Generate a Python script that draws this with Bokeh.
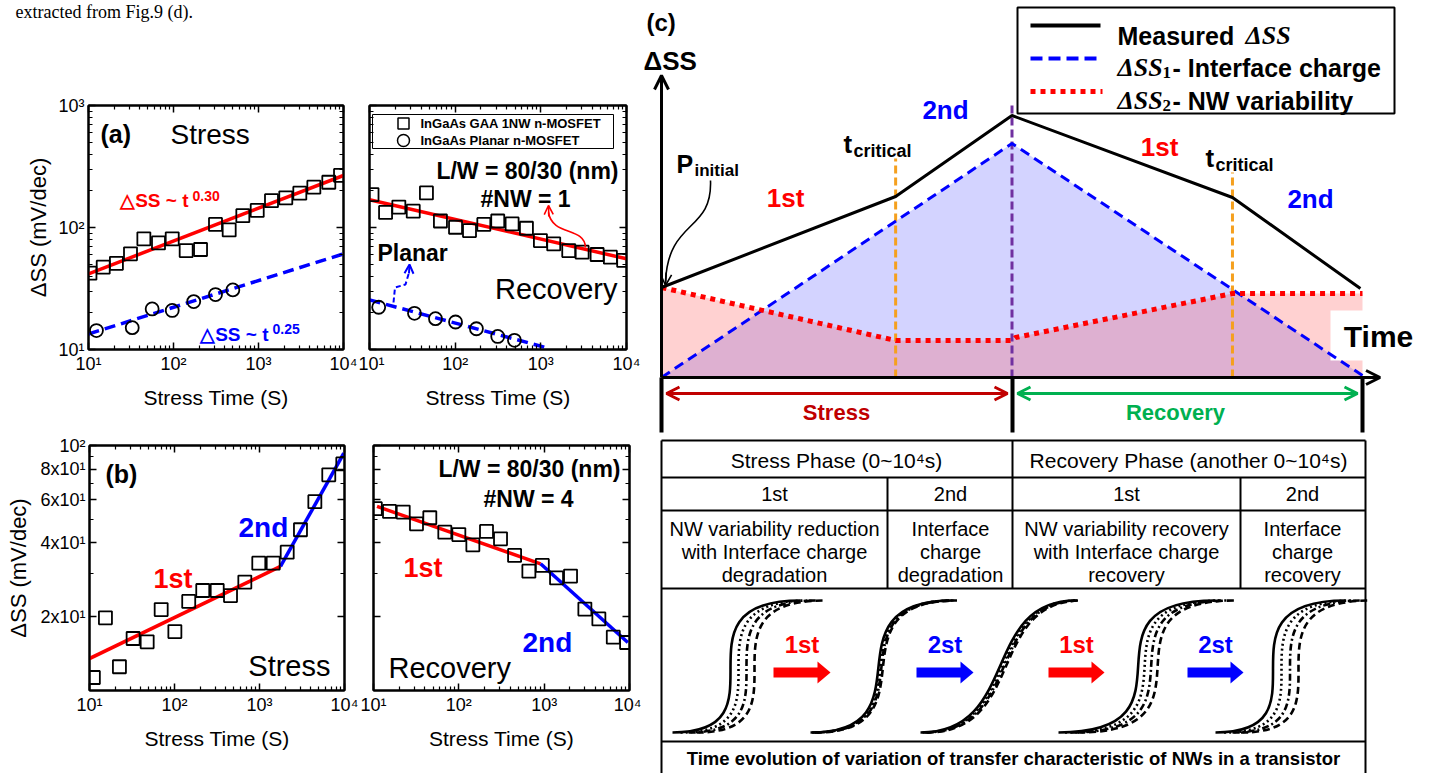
from bokeh.plotting import figure
from bokeh.layouts import row, column
from bokeh.models import (Range1d, LinearScale, LogAxis, FixedTicker,
                          CustomJSTickFormatter, Label, Arrow, OpenHead)
from bokeh.embed import file_html
from bokeh.resources import INLINE

SANS = "Liberation Sans"
SERIF = "Liberation Serif"

# ------------------------------------------------------------------ data
time_ticks = [10, 100, 1000, 10000]
time_tick_labels = ["10¹", "10²", "10³", "10⁴"]
a_ss_ticks = [10, 100, 1000]
a_ss_tick_labels = ["10¹", "10²", "10³"]
b_ss_ticks = [20, 40, 60, 80, 100]
b_ss_tick_labels = ["2x10¹", "4x10¹", "6x10¹", "8x10¹", "10²"]
b_ss_minor = [10, 30, 50, 70, 90]

# (a) stress
a_st_gaa_t = [10.4, 14.9, 21.3, 31.2, 44.8, 66.6, 96.6, 141, 208, 312, 452, 654, 966, 1422, 2094, 3062, 4478, 6715, 9226]
a_st_gaa_ss = [42.2, 47.3, 50.9, 60.8, 80.7, 74.8, 80.7, 64.7, 66.0, 106, 95.6, 125, 138, 166, 175, 191, 214, 235, 267]
a_st_pl_t = [12.4, 32.7, 56.1, 96.6, 173, 312, 499]
a_st_pl_ss = [14.3, 15.1, 21.5, 20.9, 24.7, 28.2, 30.8]
a_st_fit_gaa_t = [10, 10000]
a_st_fit_gaa_ss = [41.7, 267]
a_st_fit_pl_t = [10, 10000]
a_st_fit_pl_ss = [13.4, 60.8]

# (a) recovery
a_rc_gaa_t = [10.7, 15.4, 22.0, 32.4, 46.2, 67.3, 101, 147, 216, 314, 462, 679, 989, 1414, 2118, 3034, 4539, 6486, 9270]
a_rc_gaa_ss = [186, 133, 147, 136, 192, 113, 100.5, 94.4, 106, 113, 107, 98.6, 78.2, 73.4, 64.7, 62.8, 60.1, 57.1, 53.7]
a_rc_pl_t = [12.8, 33.5, 58.9, 101, 177, 314, 492]
a_rc_pl_ss = [22.2, 19.8, 17.9, 16.8, 14.8, 12.8, 11.9]
a_rc_fit_gaa_t = [10, 10000]
a_rc_fit_gaa_ss = [169, 55.4]
a_rc_fit_pl_t = [10, 1132]
a_rc_fit_pl_ss = [25.5, 10.4]

# (b) stress
b_st_t = [11.1, 15.4, 22.5, 32.6, 47.7, 69.7, 101, 147, 215, 318, 456, 672, 981, 1449, 2118, 3034, 4478, 6531, 9550]
b_st_ss = [11.3, 19.8, 12.5, 16.3, 15.8, 21.4, 17.4, 23.1, 25.6, 25.6, 24.4, 27.7, 33.1, 33.1, 36.7, 45.3, 59.0, 75.9, 84.1]
b_st_fit1_t = [10, 1766]
b_st_fit1_ss = [13.5, 32.1]
b_st_fit2_t = [1766, 9818]
b_st_fit2_ss = [32.1, 93.0]

# (b) recovery
b_rc_t = [10.5, 15.4, 22.3, 31.9, 45.7, 68.5, 100, 146, 211, 308, 450, 662, 951, 1397, 2037, 2999, 4375, 6457, 9247]
b_rc_ss = [55.2, 53.8, 53.5, 47.9, 50.7, 44.3, 43.3, 39.3, 44.6, 41.6, 35.6, 30.7, 32.4, 28.8, 29.3, 21.5, 19.6, 16.5, 15.7]
b_rc_fit1_t = [11, 908]
b_rc_fit1_ss = [56.4, 32.9]
b_rc_fit2_t = [908, 9570]
b_rc_fit2_ss = [32.9, 15.7]

# (c) schematic (time in stress/recovery units, dSS in arbitrary units)
sch_meas_t = [0.0, 0.668, 1.0, 1.629, 1.994]
sch_meas = [0.90, 1.81, 2.62, 1.80, 0.89]
sch_ss1_t = [0.0, 1.0, 2.0]
sch_ss1 = [0.0, 2.34, 0.02]
sch_ss2_t = [0.0, 0.668, 1.0, 1.01, 1.629, 2.0]
sch_ss2 = [0.90, 0.37, 0.37, 0.40, 0.84, 0.84]
t_critical = [0.668, 1.629]
t_critical_top = [2.19, 2.05]
t_switch = 1.0
t_switch_top = 2.74

table_header = ["Stress Phase (0~10⁴s)", "Recovery Phase (another 0~10⁴s)"]
table_steps = ["1st", "2nd", "1st", "2nd"]
table_desc = [["NW variability reduction", "with Interface charge", "degradation"],
              ["Interface", "charge", "degradation"],
              ["NW variability recovery", "with Interface charge", "recovery"],
              ["Interface", "charge", "recovery"]]
caption = "Time evolution of variation of transfer characteristic of NWs in a transistor"

# S-curve illustration groups (page px)
sc_x0 = [672, 810, 920, 1058, 1215]
sc_x1 = [800, 952, 1075, 1215, 1345]
sc_xm = [728, 877, 1000, 1138, 1270]
sc_steep = [1.0, 0.8, 0.25, 0.9, 1.0]
sc_spread = [8, 1.5, 2, 6.5, 8.5]
sc_styles = ["solid", "2 3", "7 3 2 3", "7 4"]


def x_minor_ticks():
    return [m * 10 ** k for k in range(1, 4) for m in range(2, 10)]


def fmt(tick_values, labels):
    return CustomJSTickFormatter(args=dict(tv=tick_values, tl=labels), code="""
        for (let i = 0; i < tv.length; i++) {
            if (Math.abs(tv[i] - tick) < 1e-6 * tv[i]) { return tl[i]; }
        }
        return "";
    """)


def blank():
    return CustomJSTickFormatter(code="return '';")


def style_axis(ax, show):
    ax.major_tick_in = 7
    ax.major_tick_out = 0
    ax.minor_tick_in = 4
    ax.minor_tick_out = 0
    ax.axis_line_width = 2
    ax.major_tick_line_width = 1.5
    ax.minor_tick_line_width = 1.2
    ax.major_label_text_font = SANS
    ax.major_label_text_color = "black"
    ax.axis_label_text_font = SANS
    ax.axis_label_text_font_style = "normal"
    ax.axis_label_text_color = "black"
    if show:
        ax.major_label_text_font_size = "18px"
        ax.major_label_standoff = 4
    else:
        ax.major_label_text_font_size = "0px"
        ax.major_label_standoff = 0


def lab(p, x, y, text, size, color="black", style="bold", align="left",
        baseline="middle", font=SANS, xr="default", yr="default"):
    p.add_layout(Label(x=x, y=y, text=text, text_font=font,
                       text_font_size=f"{size}px", text_font_style=style,
                       text_color=color, text_align=align, text_baseline=baseline,
                       x_range_name=xr, y_range_name=yr))


def log_panel(fig_box, frame_box, y_lim, y_ticks, y_labels, y_minor, show_y, ylab_standoff):
    left, top, right, bottom = fig_box
    fl, ft, fr, fb = frame_box
    p = figure(width=right - left, height=bottom - top, title=None,
               x_axis_type="log", y_axis_type="log",
               x_range=Range1d(10, 1e4), y_range=Range1d(*y_lim),
               min_border_left=fl - left, min_border_right=right - fr,
               min_border_top=ft - top, min_border_bottom=bottom - fb,
               output_backend="svg", toolbar_location=None)
    p.grid.visible = False
    p.outline_line_color = "black"
    p.outline_line_width = 2
    p.extra_x_ranges = {"px": Range1d(fl, fr)}
    p.extra_y_ranges = {"py": Range1d(fb, ft)}
    p.extra_x_scales = {"px": LinearScale()}
    p.extra_y_scales = {"py": LinearScale()}

    xb = p.xaxis[0]
    yl = p.yaxis[0]
    xb.ticker = FixedTicker(ticks=time_ticks, minor_ticks=x_minor_ticks())
    xb.formatter = fmt(time_ticks, time_tick_labels)
    yl.ticker = FixedTicker(ticks=y_ticks, minor_ticks=y_minor)
    yl.formatter = fmt(y_ticks, y_labels) if show_y else blank()
    xa = LogAxis(ticker=FixedTicker(ticks=time_ticks, minor_ticks=x_minor_ticks()), formatter=blank())
    yr = LogAxis(ticker=FixedTicker(ticks=y_ticks, minor_ticks=y_minor), formatter=blank())
    p.add_layout(xa, "above")
    p.add_layout(yr, "right")
    style_axis(xb, True)
    style_axis(yl, show_y)
    style_axis(xa, False)
    style_axis(yr, False)
    xb.axis_label = "Stress Time (S)"
    xb.axis_label_text_font_size = "21px"
    xb.axis_label_standoff = 9
    if show_y:
        yl.axis_label = "ΔSS (mV/dec)"
        yl.axis_label_text_font_size = "22px"
        yl.axis_label_standoff = ylab_standoff
    return p


def squares(p, t, ss, size=13):
    p.scatter(t, ss, marker="square", size=size, fill_color=None,
              line_color="black", line_width=1.8)


def circles(p, t, ss, size=13):
    p.scatter(t, ss, marker="circle", size=size, fill_color=None,
              line_color="black", line_width=1.8)


a_ticks_minor = [m * 10 ** k for k in range(1, 3) for m in range(2, 10)]
BOTTOM = 773

# ------------------------------------------------------------- panel (a) stress
a_s = log_panel((0, 90, 358, 415), (88, 105, 343, 349), (10, 1000),
                a_ss_ticks, a_ss_tick_labels, a_ticks_minor, True, 4)
a_s.line(a_st_fit_gaa_t, a_st_fit_gaa_ss, line_color="#ff0000", line_width=3.5)
a_s.line(a_st_fit_pl_t, a_st_fit_pl_ss, line_color="#0000ff", line_width=3.5, line_dash="11 6")
squares(a_s, a_st_gaa_t, a_st_gaa_ss)
circles(a_s, a_st_pl_t, a_st_pl_ss)
kw = dict(xr="px", yr="py")
lab(a_s, 100, 133, "(a)", 25, **kw)
lab(a_s, 170, 134, "Stress", 28, style="normal", **kw)
lab(a_s, 188, 200, "△SS ~ t", 19, color="#ff0000", align="right", baseline="alphabetic", **kw)
lab(a_s, 192, 195, "0.30", 14, color="#ff0000", baseline="alphabetic", **kw)
lab(a_s, 268, 334, "△SS ~ t", 19, color="#0000ff", align="right", baseline="alphabetic", **kw)
lab(a_s, 272, 328, "0.25", 14, color="#0000ff", baseline="alphabetic", **kw)

# ----------------------------------------------------------- panel (a) recovery
a_r = log_panel((358, 90, 641, 415), (369, 105, 626, 349), (10, 1000),
                a_ss_ticks, a_ss_tick_labels, a_ticks_minor, False, 5)
a_r.line(a_rc_fit_gaa_t, a_rc_fit_gaa_ss, line_color="#ff0000", line_width=3.5)
a_r.line(a_rc_fit_pl_t, a_rc_fit_pl_ss, line_color="#0000ff", line_width=3.5, line_dash="11 6")
squares(a_r, a_rc_gaa_t, a_rc_gaa_ss)
circles(a_r, a_rc_pl_t, a_rc_pl_ss)
a_r.quad(left=[372], right=[613], top=[114], bottom=[148], fill_color="white",
         line_color="black", line_width=1, x_range_name="px", y_range_name="py")
a_r.scatter([403], [123], marker="square", size=11, fill_color=None, line_color="black",
            line_width=1.5, x_range_name="px", y_range_name="py")
a_r.scatter([403], [140], marker="circle", size=12, fill_color=None, line_color="black",
            line_width=1.5, x_range_name="px", y_range_name="py")
lab(a_r, 420, 123, "InGaAs GAA 1NW n-MOSFET", 13, **kw)
lab(a_r, 420, 140, "InGaAs Planar n-MOSFET", 13, **kw)
lab(a_r, 618, 170, "L/W = 80/30 (nm)", 23, align="right", **kw)
lab(a_r, 480, 198, "#NW = 1", 23, **kw)
lab(a_r, 377, 252, "Planar", 23, **kw)
lab(a_r, 617, 288, "Recovery", 29, style="normal", align="right", **kw)
a_r.bezier(x0=[585], y0=[247], x1=[548], y1=[212], cx0=[584], cy0=[226], cx1=[552], cy1=[236],
           line_color="#ff0000", line_width=1.6, x_range_name="px", y_range_name="py")
a_r.add_layout(Arrow(x_start=548.3, y_start=216, x_end=548, y_end=205,
                     end=OpenHead(size=9, line_color="#ff0000", line_width=1.6),
                     line_color="#ff0000", line_width=1.6, x_range_name="px", y_range_name="py"))
a_r.line([393, 394.5, 405, 408.5], [302, 287, 284, 272], line_color="#0000ff",
         line_width=2, line_dash="5 3", x_range_name="px", y_range_name="py")
a_r.add_layout(Arrow(x_start=408.5, y_start=273, x_end=409, y_end=264,
                     end=OpenHead(size=9, line_color="#0000ff", line_width=2),
                     line_color="#0000ff", line_width=2, x_range_name="px", y_range_name="py"))

# ------------------------------------------------------------- panel (b) stress
b_s = log_panel((0, 415, 359, BOTTOM), (89, 445, 344, 690), (10, 100),
                b_ss_ticks, b_ss_tick_labels, b_ss_minor, True, 6)
b_s.line(b_st_fit1_t, b_st_fit1_ss, line_color="#ff0000", line_width=3.5)
b_s.line(b_st_fit2_t, b_st_fit2_ss, line_color="#0000ff", line_width=3.5)
squares(b_s, b_st_t, b_st_ss)
lab(b_s, 105, 473, "(b)", 25, **kw)
lab(b_s, 153, 578, "1st", 27, color="#ff0000", **kw)
lab(b_s, 238, 527, "2nd", 28, color="#0000ff", **kw)
lab(b_s, 330, 665, "Stress", 29, style="normal", align="right", **kw)

# ----------------------------------------------------------- panel (b) recovery
b_r = log_panel((359, 415, 641, BOTTOM), (373, 445, 629, 690), (10, 100),
                b_ss_ticks, b_ss_tick_labels, b_ss_minor, False, 7)
b_r.line(b_rc_fit1_t, b_rc_fit1_ss, line_color="#ff0000", line_width=3.5)
b_r.line(b_rc_fit2_t, b_rc_fit2_ss, line_color="#0000ff", line_width=3.5)
squares(b_r, b_rc_t, b_rc_ss)
lab(b_r, 620, 468, "L/W = 80/30 (nm)", 23, align="right", **kw)
lab(b_r, 483, 498, "#NW = 4", 23, **kw)
lab(b_r, 403, 567, "1st", 27, color="#ff0000", **kw)
lab(b_r, 522, 642, "2nd", 28, color="#0000ff", **kw)
lab(b_r, 388, 667, "Recovery", 29, style="normal", **kw)

# ------------------------------------------------------------------ top text
top = figure(width=641, height=90, title=None, x_range=Range1d(0, 641), y_range=Range1d(90, 0),
             x_axis_location=None, y_axis_location=None, min_border=0,
             output_backend="svg", toolbar_location=None)
top.grid.visible = False
top.outline_line_color = None
lab(top, 15, 1, "extracted from Fig.9 (d).", 18, style="normal", baseline="top", font=SERIF)

# ------------------------------------------------------------------ panel (c)
CX0, CX1, CY0, CY1 = 641, 1432, 0, BOTTOM
c = figure(width=CX1 - CX0, height=CY1 - CY0, title=None,
           x_range=Range1d(CX0, CX1), y_range=Range1d(CY1, CY0),
           x_axis_location=None, y_axis_location=None, min_border=0,
           output_backend="svg", toolbar_location=None)
c.grid.visible = False
c.outline_line_color = None
T_X0, T_PX = 661, 350.5
V_Y0, V_PX = 377, 100
c.extra_x_ranges = {"t": Range1d((CX0 - T_X0) / T_PX, (CX1 - T_X0) / T_PX)}
c.extra_y_ranges = {"v": Range1d((V_Y0 - CY1) / V_PX, (V_Y0 - CY0) / V_PX)}
c.extra_x_scales = {"t": LinearScale()}
c.extra_y_scales = {"v": LinearScale()}
sk = dict(x_range_name="t", y_range_name="v")

c.varea(x=sch_ss1_t, y1=[0] * len(sch_ss1_t), y2=sch_ss1, fill_color="#6060ff", fill_alpha=0.28, **sk)
c.varea(x=sch_ss2_t, y1=[0] * len(sch_ss2_t), y2=sch_ss2, fill_color="#ff4848", fill_alpha=0.25, **sk)
c.quad(left=[1330], right=[1432], top=[310], bottom=[360], fill_color="white", line_color=None)
c.segment(x0=t_critical, y0=[0, 0], x1=t_critical, y1=t_critical_top, line_color="#f5a01e",
          line_width=3, line_dash="8 4", **sk)
c.segment(x0=[t_switch], y0=[0], x1=[t_switch], y1=[t_switch_top], line_color="#7030a0",
          line_width=3, line_dash="8 4", **sk)
c.line(sch_ss1_t, sch_ss1, line_color="#0000ff", line_width=3, line_dash="10 6", **sk)
c.line(sch_ss2_t, sch_ss2, line_color="#ff0000", line_width=5, line_dash="5 5", **sk)
c.line(sch_meas_t, sch_meas, line_color="black", line_width=3, **sk)
c.add_layout(Arrow(x_start=0, y_start=0, x_end=0, y_end=3.02, line_width=3,
                   end=OpenHead(size=14, line_width=3), **sk))
c.add_layout(Arrow(x_start=0, y_start=0, x_end=2.05, y_end=0, line_width=3,
                   end=OpenHead(size=14, line_width=3), **sk))

c.segment(x0=[661, 1012, 1362], y0=[377] * 3, x1=[661, 1012, 1362], y1=[432] * 3,
          line_color="black", line_width=4)
c.add_layout(Arrow(x_start=666, y_start=393, x_end=1007, y_end=393, line_color="#c00000", line_width=3,
                   start=OpenHead(size=13, line_color="#c00000", line_width=3),
                   end=OpenHead(size=13, line_color="#c00000", line_width=3)))
c.add_layout(Arrow(x_start=1017, y_start=393, x_end=1357, y_end=393, line_color="#00b050", line_width=3,
                   start=OpenHead(size=13, line_color="#00b050", line_width=3),
                   end=OpenHead(size=13, line_color="#00b050", line_width=3)))
lab(c, 836, 412, "Stress", 22, color="#c00000", align="center")
lab(c, 1175, 412, "Recovery", 22, color="#00b050", align="center")

# P_initial pointer
c.bezier(x0=[710], y0=[180], x1=[665], y1=[281], cx0=[712], cy0=[232], cx1=[668], cy1=[218],
         line_color="black", line_width=1.6)
c.add_layout(Arrow(x_start=665.7, y_start=272, x_end=665, y_end=285, line_width=1.6,
                   end=OpenHead(size=11, line_width=1.6)))

lab(c, 646, 22, "(c)", 24)
lab(c, 643, 60, "ΔSS", 26)
lab(c, 676, 163, "P", 25, baseline="alphabetic")
lab(c, 694, 170, "initial", 17, baseline="alphabetic")
lab(c, 785, 197, "1st", 26, color="#ff0000", align="center")
lab(c, 945, 109, "2nd", 26, color="#0000ff", align="center")
lab(c, 843, 143, "t", 26, baseline="alphabetic")
lab(c, 853, 150, "critical", 18, baseline="alphabetic")
lab(c, 1159, 146, "1st", 26, color="#ff0000", align="center")
lab(c, 1205, 157, "t", 26, baseline="alphabetic")
lab(c, 1215, 164, "critical", 18, baseline="alphabetic")
lab(c, 1310, 198, "2nd", 26, color="#0000ff", align="center")
lab(c, 1378, 336, "Time", 30, align="center")

# legend box
c.quad(left=[1017], right=[1394], top=[7], bottom=[113], fill_color="white",
       line_color="black", line_width=2)
c.segment(x0=[1030], y0=[25], x1=[1100], y1=[25], line_color="black", line_width=4)
c.segment(x0=[1030], y0=[58], x1=[1100], y1=[58], line_color="#0000ff", line_width=4, line_dash="12 6")
c.segment(x0=[1030], y0=[91], x1=[1102], y1=[91], line_color="#ff0000", line_width=5, line_dash="5 5")
lab(c, 1117, 35, "Measured", 25, baseline="alphabetic")
lab(c, 1245, 35, "ΔSS", 26, style="bold italic", font=SERIF, baseline="alphabetic")
lab(c, 1117, 67, "ΔSS", 26, style="bold italic", font=SERIF, baseline="alphabetic")
lab(c, 1162, 72, "1", 17, style="bold", font=SERIF, baseline="alphabetic")
lab(c, 1172, 67, "- Interface charge", 25, baseline="alphabetic")
lab(c, 1117, 100, "ΔSS", 26, style="bold italic", font=SERIF, baseline="alphabetic")
lab(c, 1162, 105, "2", 17, style="bold", font=SERIF, baseline="alphabetic")
lab(c, 1172, 100, "- NW variability", 25, baseline="alphabetic")

# table
TL, TR = 661, 1365
c.segment(x0=[TL] * 5, x1=[TR] * 5, y0=[440, 477, 510, 588, 741], y1=[440, 477, 510, 588, 741],
          line_color="black", line_width=2)
c.segment(x0=[TL, TR, 1012, 887, 1240], x1=[TL, TR, 1012, 887, 1240],
          y0=[440, 440, 440, 477, 477], y1=[BOTTOM, BOTTOM, 588, 588, 588],
          line_color="black", line_width=2)
lab(c, 836, 460, table_header[0], 21, style="normal", align="center")
lab(c, 1188, 460, table_header[1], 21, style="normal", align="center")
col_centers = [774, 950, 1126, 1302]
for cx, step, desc in zip(col_centers, table_steps, table_desc):
    lab(c, cx, 493, step, 20, style="normal", align="center")
    for i, line in enumerate(desc):
        lab(c, cx, 528 + 23 * i, line, 20, style="normal", align="center")
lab(c, 1013, 758, caption, 18.5, align="center")

# S-curves (transfer characteristics sketches)
YB, YT = 732, 600
for k, dash in enumerate(sc_styles):
    x0s, x1s, c0s, c1s = [], [], [], []
    for g in range(len(sc_x0)):
        sh = k * sc_spread[g]
        a = 0.5 * (sc_x1[g] - sc_x0[g]) * sc_steep[g]
        x0s.append(sc_x0[g] + sh)
        x1s.append(sc_x1[g] + sh)
        c0s.append(sc_xm[g] + sh + a)
        c1s.append(sc_xm[g] + sh - a)
    n = len(x0s)
    c.bezier(x0=x0s, y0=[YB] * n, x1=x1s, y1=[YT] * n, cx0=c0s, cy0=[YB] * n,
             cx1=c1s, cy1=[YT] * n, line_color="black", line_width=2.6, line_dash=dash)

# block arrows between sketches
arr_left = [773, 916, 1048, 1187]
arr_tip = [830, 973, 1104, 1243]
arr_col = ["#ff0000", "#0000ff", "#ff0000", "#0000ff"]
arr_txt = ["1st", "2st", "1st", "2st"]
for xl, xt, col, txt in zip(arr_left, arr_tip, arr_col, arr_txt):
    c.quad(left=[xl], right=[xt - 12], top=[667], bottom=[677], fill_color=col, line_color=None)
    c.patch([xt - 13, xt, xt - 13], [661, 672, 683], fill_color=col, line_color=None)
    lab(c, (xl + xt) / 2 + 0, 644, txt, 24, color=col, align="center")

layout = row(column(top, row(a_s, a_r), row(b_s, b_r)), c)
open("out.html", "w").write(file_html(layout, INLINE))
